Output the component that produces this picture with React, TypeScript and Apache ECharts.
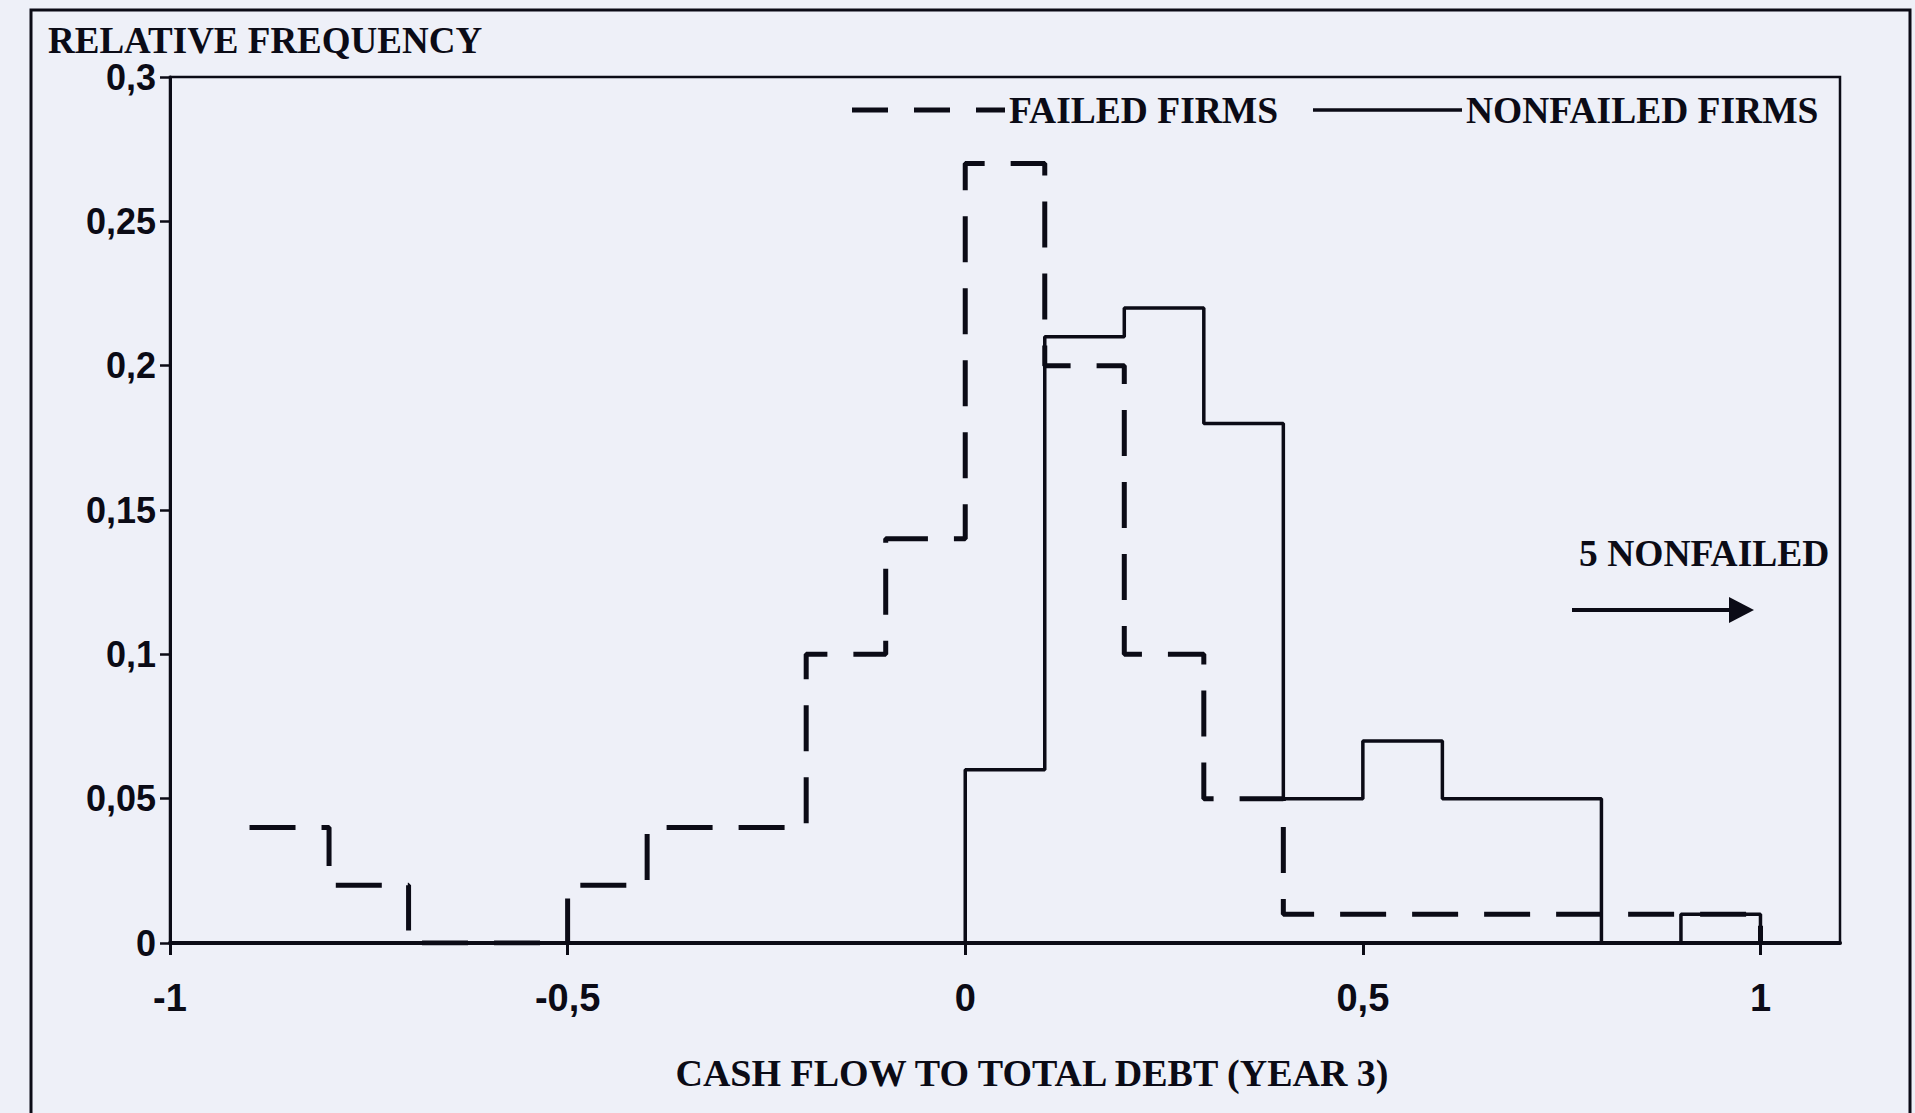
import React, { useEffect, useRef } from "react";
import * as echarts from "echarts";

// Bin edges (left edges plus final right edge) and relative frequencies per bin
const failedEdges = [-0.9, -0.8, -0.7, -0.6, -0.5, -0.4, -0.3, -0.2, -0.1, 0, 0.1, 0.2, 0.3, 0.4, 0.5, 0.6, 0.7, 0.8, 0.9, 1.0];
const failedValues = [0.04, 0.02, 0, 0, 0.02, 0.04, 0.04, 0.1, 0.14, 0.27, 0.2, 0.1, 0.05, 0.01, 0.01, 0.01, 0.01, 0.01, 0.01];

const nonfailedEdges = [0, 0.1, 0.2, 0.3, 0.4, 0.5, 0.6, 0.7, 0.8, 0.9, 1.0];
const nonfailedValues = [0.06, 0.21, 0.22, 0.18, 0.05, 0.07, 0.05, 0.05, 0, 0.01];

const xTickValues = [-1, -0.5, 0, 0.5, 1];

const seriesNames = ["FAILED FIRMS", "NONFAILED FIRMS"];
const titleText = "RELATIVE FREQUENCY";
const xAxisTitle = "CASH FLOW TO TOTAL DEBT (YEAR 3)";
const noteText = "5 NONFAILED";

const INK = "#0b0b16";
const SERIF = '"Liberation Serif", "Times New Roman", serif';
const SANS = '"Liberation Sans", Arial, sans-serif';

function stepData(edges: number[], values: number[], riseFromZero: boolean) {
  const pts: number[][] = [];
  if (riseFromZero) pts.push([edges[0], 0]);
  edges.forEach((e, i) => pts.push([e, i < values.length ? values[i] : 0]));
  return pts;
}

const fmt = (v: number) => String(+(+v).toFixed(2)).replace(".", ",");

export default function App() {
  const ref = useRef<HTMLDivElement>(null);

  useEffect(() => {
    document.body.style.margin = "0";
    const chart = echarts.init(ref.current!, null, { renderer: "svg" });
    const serifText = (text: string, x: number, y: number) => ({
      type: "text",
      x,
      y,
      style: {
        text,
        fill: INK,
        fontFamily: SERIF,
        fontWeight: "bold",
        fontSize: 37.5,
        verticalAlign: "middle",
        align: "left",
      },
    });
    chart.setOption({
      animation: false,
      backgroundColor: "#eef0f8",
      title: {
        text: titleText,
        left: 48,
        top: 25,
        padding: 0,
        textStyle: {
          color: INK,
          fontFamily: SERIF,
          fontWeight: "bold",
          fontSize: 37,
          lineHeight: 30,
        },
      },
      grid: {
        left: 170,
        top: 77,
        right: 75,
        bottom: 170,
        show: true,
        borderColor: INK,
        borderWidth: 2.5,
        backgroundColor: "transparent",
      },
      xAxis: {
        type: "value",
        min: -1,
        max: 1.1,
        name: xAxisTitle,
        nameLocation: "middle",
        nameGap: 111,
        nameTextStyle: {
          color: INK,
          fontFamily: SERIF,
          fontWeight: "bold",
          fontSize: 38,
          padding: [0, 0, 0, 54],
        },
        axisLine: { show: true, onZero: false, lineStyle: { color: INK, width: 4 } },
        axisTick: {
          show: true,
          customValues: xTickValues,
          length: 12,
          lineStyle: { color: INK, width: 3 },
        },
        axisLabel: {
          customValues: xTickValues,
          formatter: (v: number) => fmt(v),
          margin: 36,
          color: INK,
          fontFamily: SANS,
          fontWeight: "bold",
          fontSize: 38,
        },
        splitLine: { show: false },
      },
      yAxis: {
        type: "value",
        min: 0,
        max: 0.3,
        interval: 0.05,
        axisLine: { show: true, onZero: false, lineStyle: { color: INK, width: 3 } },
        axisTick: { show: true, length: 10, lineStyle: { color: INK, width: 2.5 } },
        axisLabel: {
          formatter: (v: number) => fmt(v),
          margin: 14,
          color: INK,
          fontFamily: SANS,
          fontWeight: "bold",
          fontSize: 36,
          lineHeight: 32,
        },
        splitLine: { show: false },
      },
      series: [
        {
          name: seriesNames[0],
          type: "line",
          step: "end",
          symbol: "none",
          data: stepData(failedEdges, failedValues, false),
          lineStyle: { color: INK, width: 5, type: [46, 26], cap: "butt" },
          z: 3,
        },
        {
          name: seriesNames[1],
          type: "line",
          step: "end",
          symbol: "none",
          data: stepData(nonfailedEdges, nonfailedValues, true),
          lineStyle: { color: INK, width: 3.5 },
          z: 4,
        },
      ],
      graphic: [
        {
          type: "rect",
          shape: { x: 31, y: 10, width: 1879, height: 1200 },
          style: { fill: "none", stroke: INK, lineWidth: 3 },
          silent: true,
        },
        {
          type: "line",
          shape: { x1: 852, y1: 110, x2: 1005, y2: 110 },
          style: { stroke: INK, lineWidth: 5, lineDash: [36, 26] },
        },
        serifText(seriesNames[0], 1009, 110),
        {
          type: "line",
          shape: { x1: 1313, y1: 110, x2: 1462, y2: 110 },
          style: { stroke: INK, lineWidth: 3.5 },
        },
        serifText(seriesNames[1], 1466, 110),
        serifText(noteText, 1579, 553),
        {
          type: "line",
          shape: { x1: 1572, y1: 610, x2: 1735, y2: 610 },
          style: { stroke: INK, lineWidth: 4 },
        },
        {
          type: "polygon",
          shape: { points: [[1729, 597], [1754, 610], [1729, 623]] },
          style: { fill: INK },
        },
      ],
    });
    return () => chart.dispose();
  }, []);

  return (
    <div
      ref={ref}
      style={{ position: "absolute", left: 0, top: 0, width: 1915, height: 1113 }}
    />
  );
}
